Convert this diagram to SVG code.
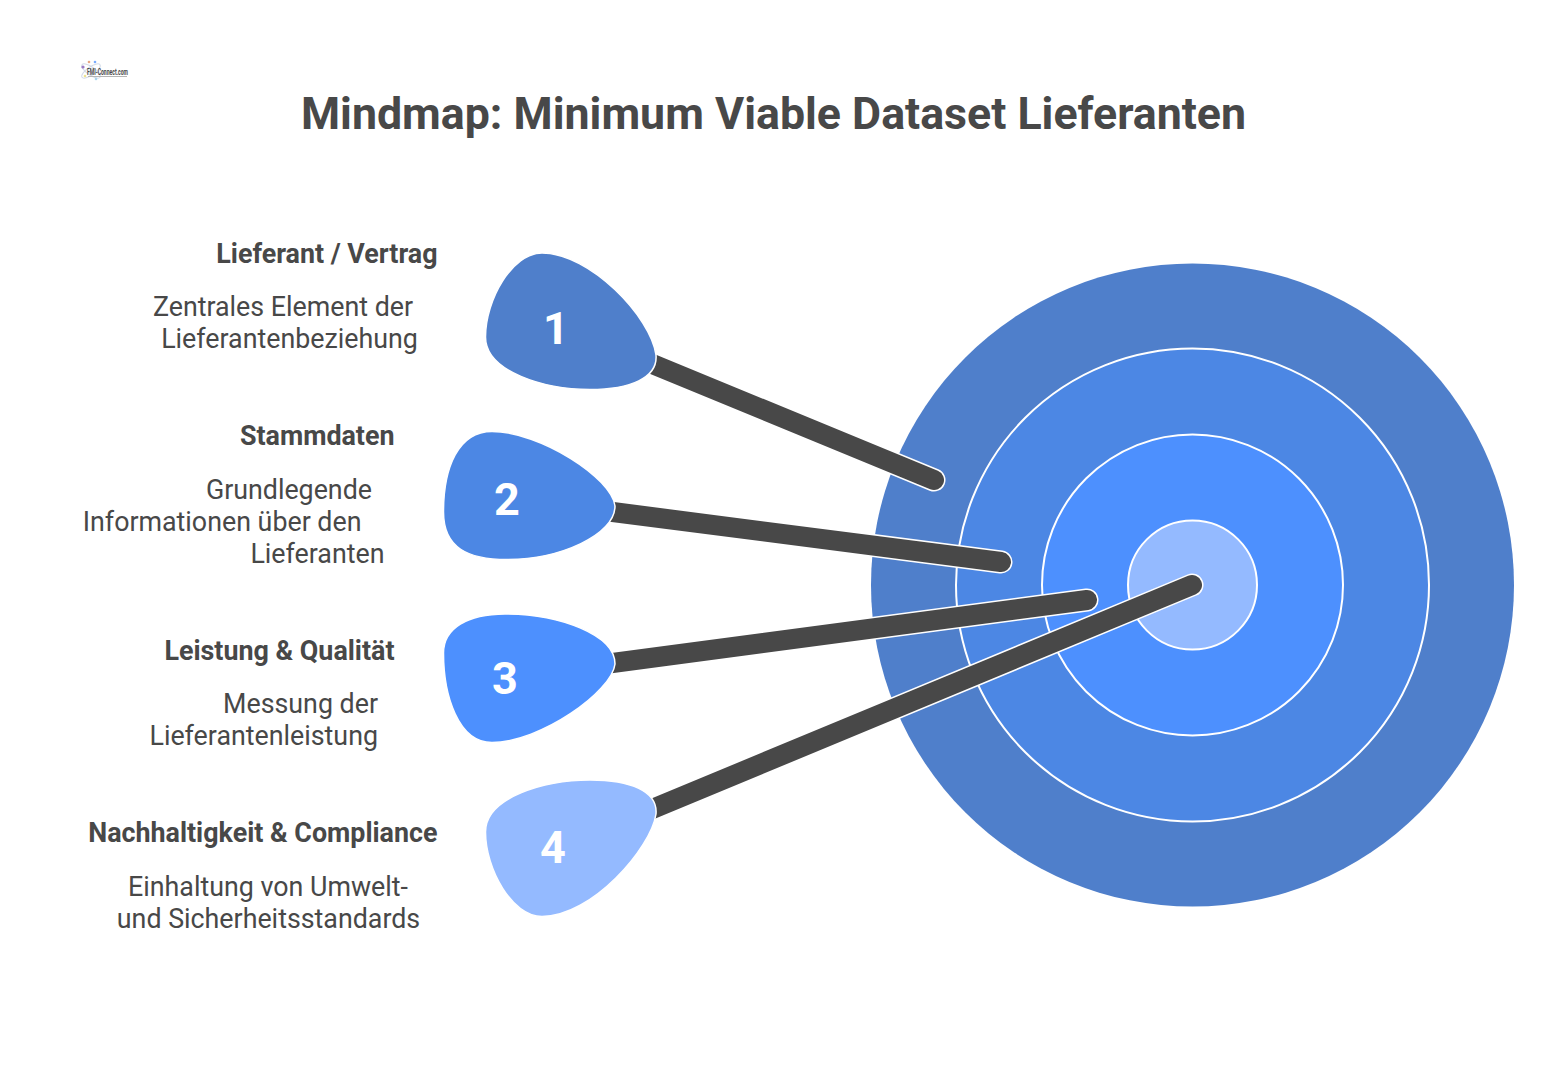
<svg xmlns="http://www.w3.org/2000/svg" width="1558" height="1073" viewBox="0 0 1558 1073">
<style>
text{font-family:Roboto,"Liberation Sans",sans-serif;fill:#484848}
.title{font-size:44.7px;font-weight:700}
.head{font-size:26.85px;font-weight:700}
.body{font-size:26.8px}
.num{font-size:45px;font-weight:700;fill:#fff;text-anchor:middle}
.ring{stroke:#fff;stroke-width:2}
.halo{stroke:#fff;stroke-width:23;stroke-linecap:round;fill:none}
.bar{stroke:#484848;stroke-width:20;stroke-linecap:round;fill:none}
.drop{stroke:#fff;stroke-width:1.5}
.e{text-anchor:end}
</style>
<rect width="1558" height="1073" fill="#fff"/>
<g id="logo">
<g opacity="0.75">
<ellipse cx="91" cy="71" rx="11" ry="4" fill="none" stroke="#c5cfe0" stroke-width="1" transform="rotate(35 91 71)"/>
<ellipse cx="91" cy="71" rx="11" ry="4" fill="none" stroke="#c5cfe0" stroke-width="1" transform="rotate(-35 91 71)"/>
<circle cx="83" cy="67" r="1.6" fill="#7a4fb0"/><circle cx="95" cy="62" r="1.3" fill="#4d90fe"/><circle cx="89" cy="62" r="1.3" fill="#e08a5a"/><circle cx="85" cy="76" r="1.3" fill="#e6d96a"/><circle cx="96" cy="79" r="1.3" fill="#8fc8e8"/>
</g>
<text x="87" y="75" style="font-size:8.5px;font-weight:700" textLength="41" lengthAdjust="spacingAndGlyphs">FMI-Connect.com</text>
<rect x="88" y="76" width="39" height="1" fill="#b5b5b5"/>
</g>
<text id="title" class="title" x="773.5" y="129" text-anchor="middle">Mindmap: Minimum Viable Dataset Lieferanten</text>
<g id="target">
<circle cx="1192.500" cy="585" r="321.5" fill="#4f7fcb"/>
<circle class="ring" cx="1192.500" cy="585" r="236.5" fill="#4c87e4"/>
<circle class="ring" cx="1192.500" cy="585" r="150.5" fill="#4d90fe"/>
<circle class="ring" cx="1192.500" cy="585" r="64.5" fill="#94baff"/>
</g>
<g id="connectors">
<path class="halo" d="M645 361L934 480"/><path class="bar" d="M645 361L934 480"/>
<path class="halo" d="M605 511L1001 562"/><path class="bar" d="M605 511L1001 562"/>
<path class="halo" d="M605 664L1087 600"/><path class="bar" d="M605 664L1087 600"/>
<path class="halo" d="M645 812L1192 585"/><path class="bar" d="M645 812L1192 585"/>
</g>
<g id="node-1">
<path class="drop" fill="#4f7fcb" d="M656 355C651 317 590 253 542 253C512 253 485.500 300 485.500 337C485.500 372 545 389.500 590 389.500C630 389.500 658 378 656 355Z"/>
<text class="num" x="556" y="344">1</text>
<text class="head e" x="437.500" y="262.500">Lieferant / Vertrag</text>
<text class="body" x="283" y="315.500" text-anchor="middle">Zentrales Element der</text>
<text class="body" x="289.500" y="347.500" text-anchor="middle">Lieferantenbeziehung</text>
</g>
<g id="node-2">
<path class="drop" fill="#4c87e4" d="M615 506C612 478 540 431.500 492 431.500C458 431.500 443.500 468 443.500 512C443.500 548 468 559.500 507 559.500C560 559.500 615 535 615 506Z"/>
<text class="num" x="507" y="515">2</text>
<text class="head e" x="394.500" y="444.500">Stammdaten</text>
<text class="body e" x="372" y="498.500">Grundlegende</text>
<text class="body e" x="361.500" y="530.500">Informationen über den</text>
<text class="body e" x="384.500" y="562.500">Lieferanten</text>
</g>
<g id="node-3">
<path class="drop" fill="#4d90fe" d="M615 664C615 635 560 614 505 614C468 614 443.500 628 443.500 653C443.500 695 458 742.500 492 742.500C540 742.500 612 692 615 664Z"/>
<text class="num" x="505" y="694">3</text>
<text class="head e" x="394.500" y="659.500">Leistung &amp; Qualität</text>
<text class="body e" x="378" y="712.500">Messung der</text>
<text class="body e" x="378" y="744.500">Lieferantenleistung</text>
</g>
<g id="node-4">
<path class="drop" fill="#94baff" d="M656 814C651 848 592 916.500 542 916.500C512 916.500 485.500 869 485.500 832C485.500 797 545 780 590 780C630 780 658 791 656 814Z"/>
<text class="num" x="553" y="863">4</text>
<text class="head e" x="437.500" y="841.500">Nachhaltigkeit &amp; Compliance</text>
<text class="body" x="268" y="895.500" text-anchor="middle">Einhaltung von Umwelt-</text>
<text class="body" x="268.500" y="927.500" text-anchor="middle">und Sicherheitsstandards</text>
</g>
</svg>
